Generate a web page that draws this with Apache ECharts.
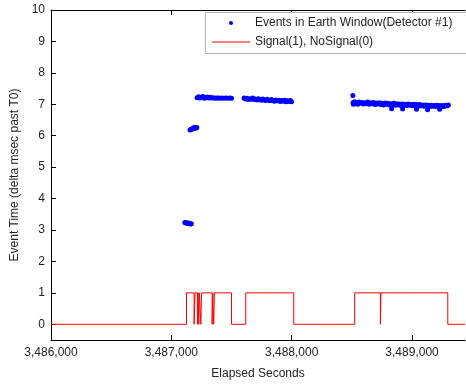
<!DOCTYPE html>
<html style="height: 100%">
<head>
  <meta charset="utf-8">
  <title>demo</title>
  <script src="https://cdn.jsdelivr.net/npm/echarts@6/dist/echarts.min.js"></script>
</head>
<body style="height: 100%; margin: 0">
<div id="container" style="height: 385px; width: 466px; background: #fff"></div>
<script type="text/javascript">
  // tick positions
  var xTicks = [3486000, 3487000, 3488000, 3489000];
  var yTicks = [0, 1, 2, 3, 4, 5, 6, 7, 8, 9, 10];

  // events, per burst [elapsed seconds, delta msec]
  var eventsA = [
    [3487112, 3.24], [3487120, 3.22], [3487128, 3.23], [3487136, 3.21],
    [3487144, 3.22], [3487152, 3.2], [3487160, 3.19], [3487166, 3.2]
  ];
  var eventsB = [
    [3487155, 6.18], [3487163, 6.2], [3487170, 6.22], [3487178, 6.21],
    [3487186, 6.25], [3487195, 6.27], [3487204, 6.24], [3487212, 6.26]
  ];
  var eventsC = [
    [3487214, 7.21], [3487226, 7.24], [3487238, 7.2], [3487250, 7.22], [3487262, 7.25],
    [3487274, 7.19], [3487286, 7.21], [3487298, 7.23], [3487310, 7.2], [3487322, 7.22],
    [3487336, 7.2], [3487350, 7.21], [3487364, 7.19], [3487378, 7.2], [3487392, 7.2],
    [3487406, 7.19], [3487420, 7.2], [3487436, 7.19], [3487452, 7.2], [3487468, 7.19],
    [3487484, 7.2], [3487500, 7.19]
  ];
  var eventsD = [
    [3487604, 7.2], [3487616, 7.17], [3487628, 7.19], [3487640, 7.15], [3487652, 7.18],
    [3487664, 7.16], [3487676, 7.2], [3487688, 7.15], [3487700, 7.17], [3487712, 7.14],
    [3487724, 7.18], [3487736, 7.15], [3487748, 7.13], [3487760, 7.17], [3487772, 7.14],
    [3487784, 7.12], [3487796, 7.16], [3487808, 7.13], [3487820, 7.11], [3487832, 7.15],
    [3487844, 7.12], [3487856, 7.1], [3487868, 7.14], [3487880, 7.11], [3487892, 7.13],
    [3487904, 7.09], [3487916, 7.12], [3487928, 7.1], [3487940, 7.13], [3487952, 7.08],
    [3487964, 7.11], [3487976, 7.09], [3487988, 7.12], [3487998, 7.08]
  ];
  var eventsE = [
    [3488508, 7.28], [3488510, 7.05], [3488512, 7.0], [3488522, 7.08], [3488530, 7.02],
    [3488540, 7.06], [3488550, 7.0], [3488560, 7.07], [3488572, 7.03], [3488584, 7.06],
    [3488596, 7.01], [3488608, 7.05], [3488620, 7.02], [3488632, 7.07], [3488644, 7.0],
    [3488656, 7.05], [3488668, 7.02], [3488680, 7.06], [3488692, 6.99], [3488704, 7.04],
    [3488716, 7.01], [3488728, 7.05], [3488740, 6.99], [3488752, 7.03], [3488764, 6.98],
    [3488776, 7.04], [3488788, 7.0], [3488800, 7.03], [3488812, 6.98], [3488824, 7.02],
    [3488830, 6.86], [3488836, 6.99], [3488848, 7.03], [3488860, 6.97], [3488872, 7.02],
    [3488884, 6.98], [3488896, 7.01], [3488908, 6.96], [3488920, 7.01], [3488921, 6.85],
    [3488932, 6.97], [3488944, 7.0], [3488956, 6.96], [3488968, 7.01], [3488980, 6.97],
    [3488992, 6.99], [3489004, 6.95], [3489016, 7.0], [3489028, 6.96], [3489037, 6.84],
    [3489040, 6.99], [3489052, 6.94], [3489064, 6.99], [3489076, 6.95], [3489088, 6.98],
    [3489100, 6.94], [3489112, 6.98], [3489124, 6.95], [3489129, 6.83], [3489136, 6.97],
    [3489148, 6.93], [3489160, 6.97], [3489172, 6.94], [3489184, 6.96], [3489196, 6.93],
    [3489208, 6.97], [3489220, 6.94], [3489229, 6.84], [3489232, 6.96], [3489244, 6.92],
    [3489256, 6.96], [3489268, 6.93], [3489280, 6.97], [3489292, 6.95], [3489302, 6.98]
  ];

  // signal level, each value holds until the next change
  var signalSteps = [
    [3486000, 0], [3487126, 1], [3487189, 0], [3487197, 1], [3487217, 0],
    [3487222, 1], [3487228, 0], [3487233, 1], [3487245, 0], [3487251, 1],
    [3487339, 0], [3487344, 1], [3487352, 0], [3487358, 1], [3487500, 0],
    [3487618, 1], [3488017, 0], [3488523, 1], [3488737, 0], [3488741, 1],
    [3489297, 0], [3489440, 0]
  ];

  var events = eventsA.concat(eventsB, eventsC, eventsD, eventsE);

  var font = 'Liberation Sans, Arial, sans-serif';
  var textColor = '#222';
  var xMin = 3486000, xMax = 3489440;

  function commas(v) {
    return String(v).replace(/\B(?=(\d{3})+(?!\d))/g, ',');
  }

  var myChart = echarts.init(document.getElementById('container'));
  var option = {
    animation: false,
    backgroundColor: '#fff',
    grid: { left: 51, right: 1, top: 10, bottom: 45 },
    xAxis: [{
      type: 'value',
      min: xMin,
      max: xMax,
      name: 'Elapsed Seconds',
      nameLocation: 'middle',
      nameGap: 28,
      nameTextStyle: { color: textColor, fontFamily: font, fontSize: 12 },
      axisLine: { onZero: false, lineStyle: { color: '#000', width: 1 } },
      axisTick: { inside: true, length: 5, customValues: xTicks, lineStyle: { color: '#000' } },
      axisLabel: {
        customValues: xTicks, color: textColor, fontFamily: font, fontSize: 12, margin: 7,
        formatter: function (v) { return commas(v); }
      },
      splitLine: { show: false }
    }, {
      type: 'value',
      position: 'top',
      min: xMin,
      max: xMax,
      axisLine: { onZero: false, lineStyle: { color: '#000', width: 1 } },
      axisTick: { inside: true, length: 5, customValues: xTicks, lineStyle: { color: '#000' } },
      axisLabel: { show: false },
      splitLine: { show: false }
    }],
    yAxis: {
      type: 'value',
      min: -0.5,
      max: 10,
      name: 'Event Time (delta msec past T0)',
      nameLocation: 'middle',
      nameGap: 30,
      nameTextStyle: { color: textColor, fontFamily: font, fontSize: 12 },
      axisLine: { onZero: false, lineStyle: { color: '#000', width: 1 } },
      axisTick: { inside: true, length: 5, customValues: yTicks, lineStyle: { color: '#000' } },
      axisLabel: { customValues: yTicks, color: textColor, fontFamily: font, fontSize: 12, margin: 6 },
      splitLine: { show: false }
    },
    graphic: [{
      type: 'rect',
      left: 205,
      top: 12,
      shape: { width: 270, height: 41 },
      style: { fill: '#fff', stroke: '#b4b4b4', lineWidth: 1 },
      z: 90
    }],
    legend: [{
      data: ['Events in Earth Window(Detector #1)'],
      left: 229,
      top: 17,
      padding: 0,
      itemWidth: 38,
      itemHeight: 4,
      itemGap: 0,
      textStyle: { color: textColor, fontFamily: font, fontSize: 12 },
      z: 100
    }, {
      data: [{ name: 'Signal(1), NoSignal(0)', icon: 'rect' }],
      left: 212,
      top: 36,
      padding: 0,
      itemWidth: 38,
      itemHeight: 1,
      itemGap: 0,
      textStyle: { color: textColor, fontFamily: font, fontSize: 12 },
      z: 100
    }],
    series: [{
      name: 'Signal(1), NoSignal(0)',
      type: 'line',
      step: 'end',
      data: signalSteps,
      symbol: 'none',
      lineStyle: { color: '#ff0000', width: 1 },
      itemStyle: { color: '#ff0000' }
    }, {
      name: 'Events in Earth Window(Detector #1)',
      type: 'scatter',
      data: events,
      symbol: 'circle',
      symbolSize: 5,
      itemStyle: { color: '#0000ff', opacity: 1 }
    }]
  };
  myChart.setOption(option);
</script>
</body>
</html>
